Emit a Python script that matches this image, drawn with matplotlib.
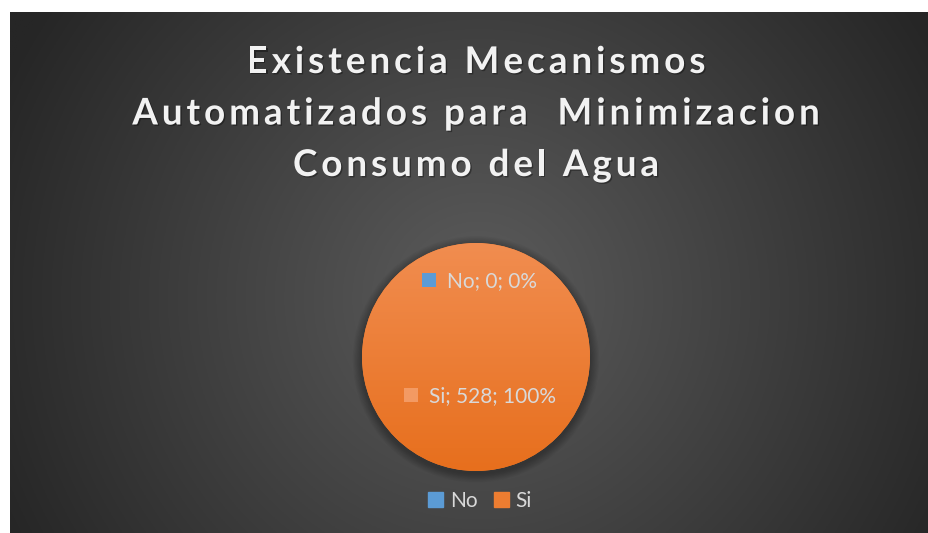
import matplotlib.pyplot as plt
import numpy as np
from matplotlib.patches import Circle, Rectangle
import matplotlib.patheffects as pe

# datos del grafico
titulo = ["Existencia Mecanismos", "Automatizados para  Minimizacion", "Consumo del Agua"]
categorias = ["No", "Si"]
valores = [0, 528]
colores = ["#5B9BD5", "#ED7D31"]

W, H = 929, 533
fig = plt.figure(figsize=(W / 100, H / 100), dpi=100)
fig.patch.set_facecolor("white")

# fondo con degradado radial
bg = fig.add_axes([10 / W, 0, (W - 10) / W, (H - 12) / H])
bg.set_axis_off()
yy, xx = np.mgrid[0:1:300j, 0:1:500j]
r = np.sqrt(((xx - 0.51) * 1.75) ** 2 + (yy - 0.45) ** 2)
r = np.clip(r, 0, 1)
c0 = np.array([0x5c, 0x5c, 0x5c]) / 255
c1 = np.array([0x26, 0x26, 0x26]) / 255
img = c0 + (c1 - c0) * r[..., None]
bg.imshow(img, extent=[0, 1, 0, 1], aspect="auto", origin="lower")
bg.set_xlim(0, 1)
bg.set_ylim(0, 1)

renderer = fig.canvas.get_renderer()


def ancho(s, **kw):
    t = fig.text(0, 0, s, **kw)
    w = t.get_window_extent(renderer).width
    t.remove()
    return w


# titulo con espaciado entre letras
tkw = dict(fontsize=26.5, fontweight="bold", family="Lato")
espacio = 4.0
sombra = [pe.withSimplePatchShadow(offset=(1, -1), shadow_rgbFace="black", alpha=0.35)]
wI = ancho("I", **tkw)
for k, linea in enumerate(titulo):
    yb = H - (73 + 51.5 * k)
    total_w = ancho(linea + "I", **tkw) - wI + espacio * (len(linea) - 1)
    x0 = 476 - total_w / 2
    for i, ch in enumerate(linea):
        if ch == " ":
            continue
        xi = x0 + ancho(linea[:i] + "I", **tkw) - wI + espacio * i
        fig.text(xi / W, yb / H, ch, ha="left", va="baseline", color="#F2F2F2",
                 path_effects=sombra, **tkw)

# pie
cx, cy, rad = 476, 533 - 357, 114
ax = fig.add_axes([(cx - rad) / W, (cy - rad) / H, 2 * rad / W, 2 * rad / H])
ax.set_axis_off()
ax.set_aspect("equal")

# sombra suave
for k in range(8):
    ax.add_patch(Circle((0, -0.02), 1.0 + 0.01 * (k + 1), color="black",
                        alpha=0.035, lw=0, zorder=0, clip_on=False))

wedges, _ = ax.pie(valores, colors=colores, startangle=90, counterclock=False,
                   wedgeprops=dict(linewidth=0))

# degradado naranja en la porcion
for w, c in zip(wedges, colores):
    if w.theta2 - w.theta1 <= 0:
        continue
    g = np.linspace(0, 1, 200)[:, None] * np.ones((1, 10))
    top = np.array([0xF1, 0x8D, 0x50]) / 255
    bot = np.array([0xE7, 0x6F, 0x1D]) / 255
    gi = top + (bot - top) * g[..., None]
    im = ax.imshow(gi, extent=[-1, 1, -1, 1], origin="upper", aspect="auto", zorder=2)
    im.set_clip_path(w)

ax.set_xlim(-1, 1)
ax.set_ylim(-1, 1)

# etiquetas de datos
total = sum(valores)
radios = [0.67, 0.34]
marcas = ["#5B9BD5", "#F39A63"]
lkw = dict(fontsize=15, family="Lato")
sq, gap = 14, 11
for w, cat, val, col, rr in zip(wedges, categorias, valores, marcas, radios):
    ang = np.deg2rad((w.theta1 + w.theta2) / 2)
    x, y = rr * np.cos(ang), rr * np.sin(ang)
    txt = f"{cat}; {val}; {val / total:.0%}"
    tw = ancho(txt, **lkw)
    px, py = ax.transData.transform((x, y))
    px = px + 4
    left = px - (sq + gap + tw) / 2
    fig.text((left + sq + gap) / W, py / H, txt, ha="left", va="center",
             color="#D9D9D9", **lkw)
    fig.patches.append(Rectangle((left / W, (py - sq / 2 + 1) / H), sq / W, sq / H,
                                 transform=fig.transFigure, figure=fig,
                                 facecolor=col, lw=0))

# leyenda
handles = [Rectangle((0, 0), 1, 1, color=c) for c in colores]
leg = fig.legend(handles, categorias, loc="center", bbox_to_anchor=(480 / W, 1 - 501 / H),
                 ncol=2, frameon=False, handlelength=0.72, handleheight=0.72,
                 handletextpad=0.3, columnspacing=0.8,
                 prop=dict(family="Lato", size=15))
for t in leg.get_texts():
    t.set_color("#D9D9D9")

fig.savefig("out.png", dpi=100, facecolor="white")
